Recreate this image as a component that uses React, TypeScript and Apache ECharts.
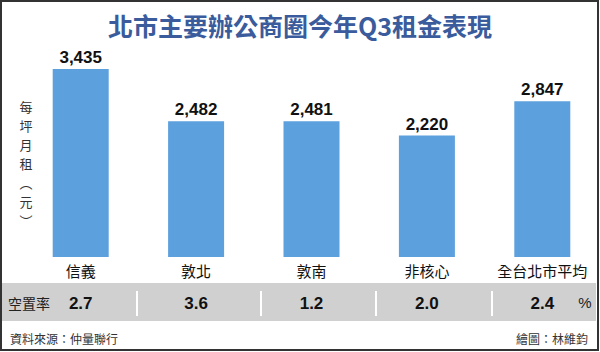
import React, { useEffect, useRef } from "react";
import * as echarts from "echarts";

const categories = ["信義", "敦北", "敦南", "非核心", "全台北市平均"];
const rents = [3435, 2482, 2481, 2220, 2847];
const vacancy = [2.7, 3.6, 1.2, 2.0, 2.4];

const TITLE = "北市主要辦公商圈今年Q3租金表現";
const Y_NAME = ["每", "坪", "月", "租", "︵", "元", "︶"];
const VACANCY_NAME = "空置率";
const VACANCY_UNIT = "%";
const SOURCE = "資料來源：仲量聯行";
const CREDIT = "繪圖：林維鈞";

const NUM = '"Liberation Sans", Arial, "Noto Sans CJK TC", sans-serif';
const CJK = '"Noto Sans CJK TC", "Noto Sans", sans-serif';

export default function App() {
  const ref = useRef<HTMLDivElement>(null);

  useEffect(() => {
    if (!ref.current) return;
    const chart = echarts.init(ref.current, null, { renderer: "svg" });
    const separators = [137, 261, 376, 492];
    chart.setOption({
      animation: false,
      backgroundColor: "#ffffff",
      title: {
        text: TITLE,
        left: "center",
        top: 7,
        textStyle: {
          fontFamily: CJK,
          fontSize: 25,
          fontWeight: "bold",
          color: "#3a5b9c",
        },
      },
      grid: { left: 23, top: 69, width: 580, height: 188 },
      xAxis: [
        {
          type: "category",
          data: categories,
          axisLine: { show: false },
          axisTick: { show: false },
          axisLabel: {
            interval: 0,
            margin: 13,
            verticalAlign: "middle",
            fontFamily: CJK,
            fontSize: 15,
            color: "#111111",
          },
        },
        {
          type: "category",
          data: vacancy.map((v) => v.toFixed(1)),
          position: "bottom",
          offset: 46,
          axisLine: { show: false },
          axisTick: { show: false },
          axisLabel: {
            interval: 0,
            margin: 0,
            verticalAlign: "middle",
            fontFamily: NUM,
            fontSize: 17,
            fontWeight: "bold",
            color: "#111111",
          },
        },
      ],
      yAxis: {
        type: "value",
        min: 0,
        max: 3435,
        show: false,
      },
      series: [
        {
          type: "bar",
          data: rents,
          barWidth: 56,
          itemStyle: { color: "#5ca0dd" },
          label: {
            show: true,
            position: "top",
            distance: 3,
            formatter: (p: any) => Number(p.value).toLocaleString("en-US"),
            fontFamily: NUM,
            fontSize: 17,
            fontWeight: "bold",
            color: "#111111",
          },
        },
      ],
      graphic: [
        {
          type: "rect",
          z: -1,
          shape: { x: 2, y: 283, width: 594, height: 38 },
          style: { fill: "#d0d0d0" },
        },
        ...separators.map((x) => ({
          type: "rect",
          z: -1,
          shape: { x: x - 1, y: 291, width: 2, height: 25 },
          style: { fill: "#ffffff" },
        })),
        {
          type: "text",
          x: 29,
          y: 303,
          style: {
            text: VACANCY_NAME,
            fontFamily: CJK,
            fontSize: 14,
            fill: "#222222",
            align: "center",
            verticalAlign: "middle",
          },
        },
        {
          type: "text",
          x: 585,
          y: 302,
          style: {
            text: VACANCY_UNIT,
            fontFamily: NUM,
            fontSize: 15,
            fill: "#222222",
            align: "center",
            verticalAlign: "middle",
          },
        },
        ...Y_NAME.map((ch, i) => ({
          type: "text",
          x: 26,
          y: 106 + i * 19,
          style: {
            text: ch,
            fontFamily: CJK,
            fontSize: 13,
            fill: "#333333",
            align: "center",
            verticalAlign: "middle",
          },
        })),
        {
          type: "text",
          x: 10,
          y: 338,
          style: {
            text: SOURCE,
            fontFamily: CJK,
            fontSize: 12,
            fill: "#333333",
            align: "left",
            verticalAlign: "middle",
          },
        },
        {
          type: "text",
          x: 588,
          y: 338,
          style: {
            text: CREDIT,
            fontFamily: CJK,
            fontSize: 12,
            fill: "#333333",
            align: "right",
            verticalAlign: "middle",
          },
        },
        {
          type: "rect",
          shape: { x: 1, y: 1, width: 597, height: 349 },
          style: { fill: "none", stroke: "#333333", lineWidth: 2 },
        },
      ],
    });
    return () => chart.dispose();
  }, []);

  return (
    <div
      ref={ref}
      style={{ position: "fixed", left: 0, top: 0, width: 600, height: 352 }}
    />
  );
}
